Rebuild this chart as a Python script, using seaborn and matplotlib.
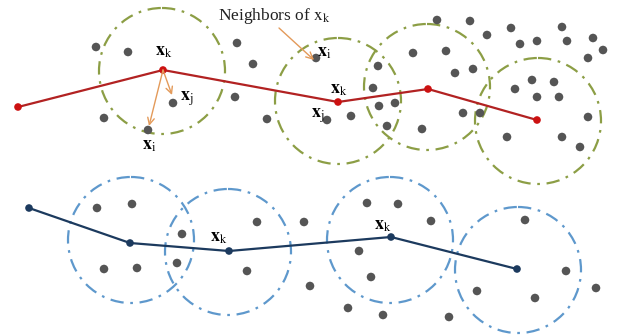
import matplotlib
matplotlib.use("Agg")
import matplotlib.pyplot as plt
import seaborn as sns
import pandas as pd
from matplotlib.patches import Circle

sns.set_theme(style="white")
plt.rcParams['font.family'] = ['Liberation Serif', 'DejaVu Serif']
plt.rcParams['mathtext.fontset'] = 'stix'

# --- data (pixel-like diagram coordinates) ---
red_path_x = [18, 163, 338, 428, 537]
red_path_y = [107, 70, 102, 89, 120]
blue_path_x = [29, 130, 229, 391, 517]
blue_path_y = [208, 243, 251, 237, 269]

green_circle_x = [162, 338, 427, 538]
green_circle_y = [71, 101, 87, 121]
blue_circle_x = [131, 228, 390, 518]
blue_circle_y = [240, 252, 240, 270]
circle_r = 63

dots_x = [96, 128, 237, 253, 235, 173, 104, 148, 267, 316,
          437, 470, 487, 511, 562, 520, 537, 567, 593, 603, 588,
          413, 446, 378, 473, 455, 373, 532, 554, 515, 537, 559,
          379, 395, 327, 351, 463, 480, 387, 422, 588, 507, 562, 580,
          97, 132, 182, 104, 137, 177, 257, 304, 247, 310,
          367, 398, 431, 359, 371, 348, 383, 449, 525, 566, 596, 477, 535]
dots_y = [47, 52, 43, 64, 97, 103, 118, 130, 119, 58,
          20, 21, 35, 28, 27, 44, 41, 41, 38, 50, 58,
          53, 51, 66, 69, 73, 88, 80, 82, 89, 97, 97,
          106, 103, 120, 116, 113, 113, 126, 129, 117, 137, 137, 147,
          208, 204, 234, 269, 268, 263, 222, 222, 271, 286,
          203, 204, 221, 251, 277, 308, 315, 317, 220, 271, 288, 291, 298]

label_text = [r'$\mathbf{x}_\mathrm{k}$', r'$\mathbf{x}_\mathrm{j}$', r'$\mathbf{x}_\mathrm{i}$',
              r'$\mathbf{x}_\mathrm{i}$', r'$\mathbf{x}_\mathrm{k}$', r'$\mathbf{x}_\mathrm{j}$',
              r'$\mathbf{x}_\mathrm{k}$', r'$\mathbf{x}_\mathrm{k}$']
label_x = [164, 187, 149, 324, 339, 318, 219, 383]
label_y = [51, 99, 146, 52, 89, 116, 238, 226]

arrow_from = [(163, 70), (163, 70), (279, 28)]
arrow_to = [(172, 95), (149, 126), (314, 60)]

dots = pd.DataFrame({'x': dots_x, 'y': dots_y})
red = pd.DataFrame({'x': red_path_x, 'y': red_path_y})
blue = pd.DataFrame({'x': blue_path_x, 'y': blue_path_y})

fig = plt.figure(figsize=(6.24, 3.36), dpi=100)
ax = fig.add_axes([0, 0, 1, 1])

green_c = '#8C9E45'
blue_c = '#5E98CC'
dash = (0, (6, 3, 1.2, 3))
for cx, cy in zip(green_circle_x, green_circle_y):
    ax.add_patch(Circle((cx, cy), circle_r, fill=False, ec=green_c, lw=1.6, ls=dash, zorder=1))
for cx, cy in zip(blue_circle_x, blue_circle_y):
    ax.add_patch(Circle((cx, cy), circle_r, fill=False, ec=blue_c, lw=1.6, ls=dash, zorder=1))

sns.scatterplot(data=dots, x='x', y='y', ax=ax, color='#555555', s=38, edgecolor='none', zorder=2)

sns.lineplot(data=red, x='x', y='y', sort=False, estimator=None, ax=ax, color='#B22222', lw=1.6, zorder=3)
sns.scatterplot(data=red, x='x', y='y', ax=ax, color='#CC1111', s=30, edgecolor='none', zorder=4)
sns.lineplot(data=blue, x='x', y='y', sort=False, estimator=None, ax=ax, color='#1C3A5E', lw=1.6, zorder=3)
sns.scatterplot(data=blue, x='x', y='y', ax=ax, color='#1C3A5E', s=30, edgecolor='none', zorder=4)

for (x0, y0), (x1, y1) in zip(arrow_from, arrow_to):
    ax.annotate('', xy=(x1, y1), xytext=(x0, y0),
                arrowprops=dict(arrowstyle='->', color='#E39A5A', lw=1.0, shrinkA=0, shrinkB=0), zorder=5)

for t, x, y in zip(label_text, label_x, label_y):
    ax.text(x, y, t, ha='center', va='center', fontsize=13, color='black', zorder=6)

ax.text(218, 16, r'Neighbors of $\mathrm{x}_\mathrm{k}$', ha='left', va='center', fontsize=12.5, color='#222222', zorder=6)

ax.set_xlim(0, 624)
ax.set_ylim(336, 0)
ax.set_axis_off()
fig.savefig('out.png', dpi=100)
